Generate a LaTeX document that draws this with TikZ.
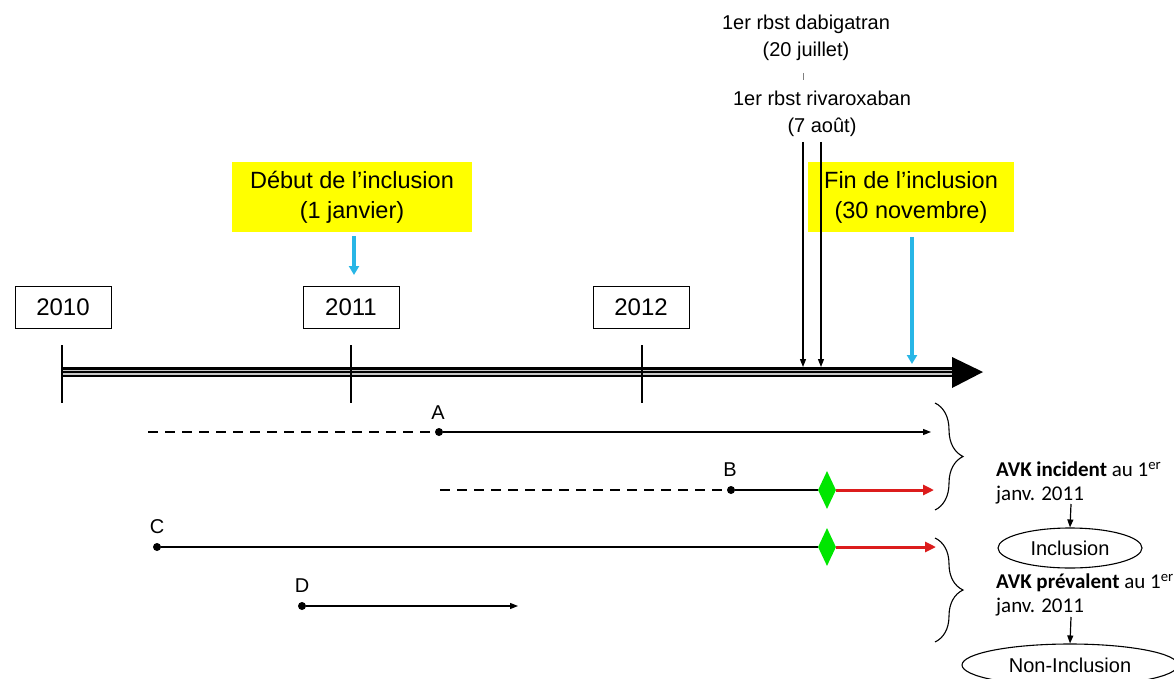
\documentclass[tikz,border=0pt]{standalone}
\usepackage{fontspec}
\setmainfont{Liberation Sans}
\newfontfamily\calib{Carlito}
\usetikzlibrary{arrows.meta,shapes.geometric,decorations.pathreplacing}
\definecolor{ybg}{RGB}{255,255,0}
\definecolor{cblue}{RGB}{40,182,230}
\definecolor{cred}{RGB}{220,28,28}
\definecolor{cgreen}{RGB}{0,230,0}
\tikzset{
  yearbox/.style={draw, line width=1pt, minimum width=96pt, minimum height=42pt, inner sep=0pt, font=\fontsize{24}{28}\selectfont},
  ybox/.style={fill=ybg, minimum height=70pt, inner sep=0pt, align=center, font=\fontsize{23.5}{30}\selectfont},
  note/.style={align=center, inner sep=0pt, font=\fontsize{20}{27}\selectfont},
  bluearrow/.style={draw=cblue, line width=3.2pt, -{Triangle[width=10pt,length=9pt]}},
  blackarrow/.style={draw=black, line width=1.2pt, -{Triangle[width=6pt,length=8pt]}},
  redarrow/.style={draw=cred, line width=3pt, -{Triangle[width=10pt,length=11pt]}},
  dashline/.style={draw=black, line width=2pt, dash pattern=on 10pt off 7pt},
  dotnode/.style={circle, fill=black, inner sep=0pt, minimum size=8pt},
  gdiam/.style={diamond, fill=cgreen, inner sep=0pt, minimum width=18pt, minimum height=38pt},
  lab/.style={inner sep=0pt, font=\fontsize{20}{22}\selectfont},
  tick/.style={draw=black, line width=1.3pt},
  bracestyle/.style={draw=black, line width=1.1pt, decorate, decoration={brace, amplitude=28pt}},
  avk/.style={align=left, inner sep=0pt, font=\calib\fontsize{21}{24}\selectfont},
  ell/.style={ellipse, draw, line width=1.1pt, inner sep=0pt, font=\fontsize{20}{22}\selectfont}
}
\begin{document}
\begin{tikzpicture}[x=1pt,y=-1pt]
\useasboundingbox (0,0) rectangle (1174,679);
% top annotations
\node[note] (dab) at (806,38) {1er rbst dabigatran\\(20 juillet)};
\node[note] (riv) at (822,114) {1er rbst rivaroxaban\\(7 août)};
\coordinate (smt1) at (803,73);
\coordinate (smt2) at (803,80);
\draw[gray, line width=1pt] (smt1) -- (smt2);
% yellow boxes
\node[ybox, minimum width=240pt] (deb) at (352,197) {Début de l’inclusion\\(1 janvier)};
\node[ybox, minimum width=206pt] (fin) at (911,197) {Fin de l’inclusion\\(30 novembre)};
% year boxes
\node[yearbox] (y2010) at (63,307) {2010};
\node[yearbox] (y2011) at (351,307) {2011};
\node[yearbox] (y2012) at (641,307) {2012};
% timeline
\coordinate (t0) at (62,372);
\coordinate (t1) at (954,372);
\draw[line width=10pt] (t0) -- (t1);
\draw[line width=5pt, gray!45] (t0) -- (t1);
\draw[line width=1.8pt] (t0) -- (t1);
\coordinate (h1) at (952,357);
\coordinate (h2) at (983,372);
\coordinate (h3) at (952,388);
\fill (h1) -- (h2) -- (h3) -- cycle;
% ticks
\coordinate (k0a) at (62,345); \coordinate (k0b) at (62,403);
\coordinate (k1a) at (351,345); \coordinate (k1b) at (351,403);
\coordinate (k2a) at (642,345); \coordinate (k2b) at (642,403);
\draw[tick] (k0a) -- (k0b);
\draw[tick] (k1a) -- (k1b);
\draw[tick] (k2a) -- (k2b);
% event arrows
\coordinate (bd1) at (354,236); \coordinate (bd2) at (354,275);
\draw[bluearrow] (bd1) -- (bd2);
\coordinate (bf1) at (912,237); \coordinate (bf2) at (912,364);
\draw[bluearrow] (bf1) -- (bf2);
\coordinate (ad1) at (803,142); \coordinate (ad2) at (803,367);
\coordinate (ar1) at (821,142); \coordinate (ar2) at (821,367);
\draw[blackarrow] (ad1) -- (ad2);
\draw[blackarrow] (ar1) -- (ar2);
% row A
\coordinate (a0) at (148,432);
\node[dotnode] (A) at (439,432) {};
\node[lab] (lA) at (438,413) {A};
\coordinate (a1) at (931,432);
\draw[dashline] (a0) -- (A);
\draw[blackarrow] (A) -- (a1);
% row B
\coordinate (b0) at (440,490);
\node[dotnode] (B) at (731,490) {};
\node[lab] (lB) at (730,470) {B};
\node[gdiam] (dB) at (827,490) {};
\coordinate (b1) at (934,490);
\draw[dashline] (b0) -- (B);
\draw[blackarrow, -] (B) -- (dB);
\draw[redarrow] (dB.east) -- (b1);
% row C
\node[dotnode] (C) at (157,547) {};
\node[lab] (lC) at (157,527) {C};
\node[gdiam] (dC) at (827,547) {};
\coordinate (c1) at (936,547);
\draw[blackarrow, -] (C) -- (dC);
\draw[redarrow] (dC.east) -- (c1);
% row D
\node[dotnode] (D) at (302,606) {};
\node[lab] (lD) at (302,586) {D};
\coordinate (d1) at (518,606);
\draw[blackarrow] (D) -- (d1);
% braces
\coordinate (br1a) at (935,403); \coordinate (br1b) at (935,510);
\coordinate (br2a) at (935,538); \coordinate (br2b) at (935,642);
\draw[bracestyle] (br1a) -- (br1b);
\draw[bracestyle] (br2a) -- (br2b);
% right side
\node[avk, anchor=west] (inc) at (996,483) {\textbf{AVK incident} au 1\textsuperscript{er}\\janv. 2011};
\node[ell, minimum width=144pt, minimum height=40pt] (incl) at (1070,548) {Inclusion};
\coordinate (ia) at (1071,504);
\draw[blackarrow] (ia) -- (incl.north);
\node[avk, anchor=west] (prev) at (996,595) {\textbf{AVK prévalent} au 1\textsuperscript{er}\\janv. 2011};
\node[ell, minimum width=216pt, minimum height=42pt] (nincl) at (1070,665) {Non-Inclusion};
\coordinate (pa) at (1071,617);
\draw[blackarrow] (pa) -- (nincl.north);
\end{tikzpicture}
\end{document}
